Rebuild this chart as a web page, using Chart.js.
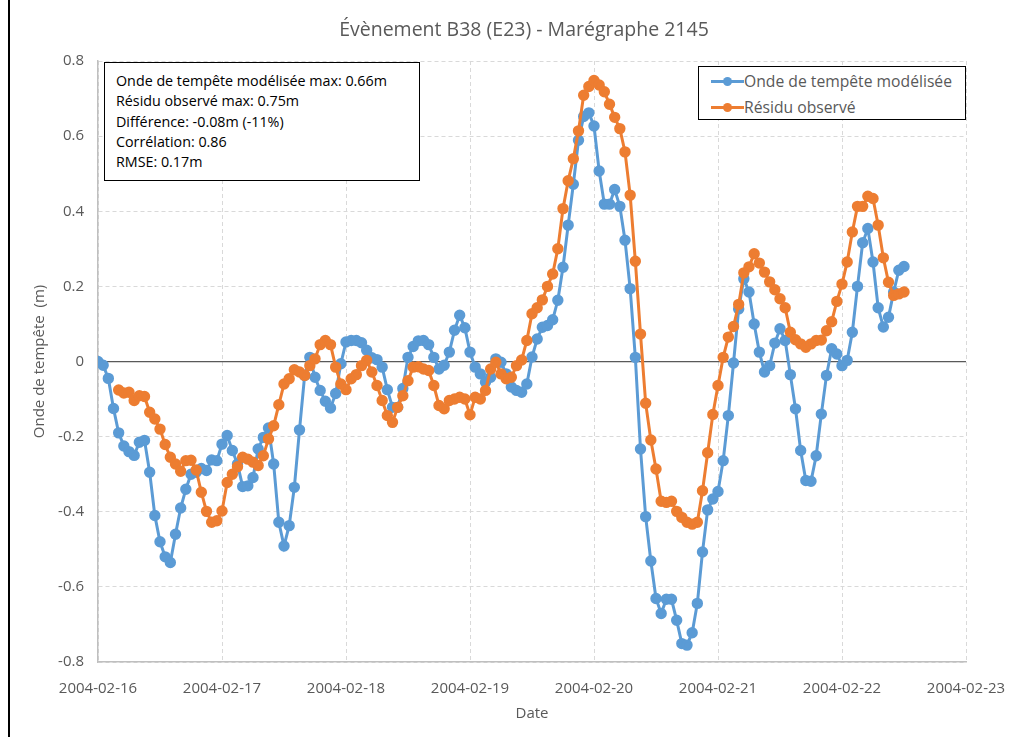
<!DOCTYPE html>
<html>
<head>
<meta charset="utf-8">
<script src="https://cdn.jsdelivr.net/npm/chart.js@4.4.1/dist/chart.umd.min.js"></script>
<style>
    body { margin: 0; background: #fff; }
    #wrap { position: relative; width: 1015px; height: 737px; overflow: hidden; font-family: "Open Sans", sans-serif; }
    #leftRule { position: absolute; left: 8px; top: 0; width: 2px; height: 737px; background: #000; }
    #title { position: absolute; left: 224px; width: 600px; top: 16px; text-align: center; font-size: 19.5px; line-height: 26px; color: #595959; }
    #stats { position: absolute; left: 104px; top: 62px; width: 316px; height: 119px; box-sizing: border-box; border: 1.5px solid #000; background: #fff; padding: 8px 0 0 11px; font-size: 14.3px; line-height: 20.3px; color: #000; }
    #legend { position: absolute; left: 698px; top: 66px; width: 268px; height: 54px; box-sizing: border-box; border: 1.5px solid #000; background: #fff; padding-top: 1px; font-size: 15.7px; color: #595959; }
    .row { height: 26px; line-height: 26px; display: flex; align-items: center; }
    .mark { position: relative; width: 33px; height: 26px; margin-left: 12px; }
    .mark .ln { position: absolute; left: 0; right: 0; top: 12px; height: 3px; }
    .mark .dot { position: absolute; left: 12px; top: 9px; width: 9px; height: 9px; border-radius: 50%; }
</style>
</head>
<body>
<div id="wrap">
    <canvas id="chart" width="1015" height="737"></canvas>
    <div id="leftRule"></div>
    <div id="title">Évènement B38 (E23) - Marégraphe 2145</div>
    <div id="stats">
        <div>Onde de tempête modélisée max: 0.66m</div>
        <div>Résidu observé max: 0.75m</div>
        <div>Différence: -0.08m (-11%)</div>
        <div>Corrélation: 0.86</div>
        <div>RMSE: 0.17m</div>
    </div>
    <div id="legend">
        <div class="row"><span class="mark"><span class="ln" style="background:#5B9BD5"></span><span class="dot" style="background:#5B9BD5"></span></span><span>Onde de tempête modélisée</span></div>
        <div class="row"><span class="mark"><span class="ln" style="background:#ED7D31"></span><span class="dot" style="background:#ED7D31"></span></span><span>Résidu observé</span></div>
    </div>
</div>
<script>
// axe des dates (une étiquette par jour, x en heures depuis 2004-02-16 00:00)
const dateLabels = ["2004-02-16", "2004-02-17", "2004-02-18", "2004-02-19", "2004-02-20", "2004-02-21", "2004-02-22", "2004-02-23"];
const hoursPerDay = 24;

// série modélisée, horaire à partir de l'heure 0
const modelStart = 0;
const modelValues = [
    0.0, -0.01, -0.045, -0.125, -0.19, -0.225, -0.24, -0.25, -0.215, -0.21,
    -0.295, -0.41, -0.48, -0.52, -0.535, -0.46, -0.39, -0.34, -0.30, -0.295,
    -0.285, -0.29, -0.262, -0.264, -0.22, -0.197, -0.237, -0.273, -0.333, -0.331,
    -0.309, -0.233, -0.202, -0.177, -0.273, -0.428, -0.491, -0.437, -0.335, -0.182,
    -0.037, 0.011, -0.042, -0.077, -0.106, -0.124, -0.085, -0.006, 0.052, 0.056,
    0.056, 0.05, 0.03, 0.01, 0.005, -0.015, -0.075, -0.122, -0.122, -0.072,
    0.011, 0.04, 0.055, 0.056, 0.045, 0.011, -0.02, -0.01, 0.025, 0.083,
    0.123, 0.09, 0.025, -0.015, -0.033, -0.055, -0.042, 0.007, -0.002, -0.033,
    -0.068, -0.077, -0.082, -0.06, 0.012, 0.06, 0.091, 0.096, 0.111, 0.163,
    0.251, 0.363, 0.472, 0.589, 0.652, 0.662, 0.627, 0.507, 0.419, 0.419,
    0.458, 0.413, 0.323, 0.194, 0.011, -0.233, -0.413, -0.531, -0.631, -0.671,
    -0.633, -0.633, -0.689, -0.751, -0.755, -0.722, -0.644, -0.507, -0.395, -0.366,
    -0.346, -0.264, -0.144, -0.004, 0.14, 0.22, 0.185, 0.1, 0.025, -0.028,
    -0.011, 0.049, 0.087, 0.056, -0.035, -0.126, -0.237, -0.317, -0.319, -0.251,
    -0.14, -0.037, 0.034, 0.02, -0.011, 0.003, 0.078, 0.2, 0.316, 0.354,
    0.265, 0.143, 0.092, 0.118, 0.185, 0.243, 0.253
];

// résidu observé, horaire à partir de l'heure 4
const observedStart = 4;
const observedValues = [
    -0.076, -0.084, -0.082, -0.104, -0.091, -0.093, -0.135, -0.153, -0.18, -0.221,
    -0.255, -0.273, -0.292, -0.264, -0.263, -0.289, -0.348, -0.399, -0.428, -0.424,
    -0.398, -0.322, -0.3, -0.28, -0.255, -0.26, -0.268, -0.277, -0.251, -0.206,
    -0.171, -0.115, -0.06, -0.046, -0.022, -0.028, -0.037, -0.011, 0.007, 0.045,
    0.056, 0.045, -0.015, -0.06, -0.075, -0.046, -0.035, -0.011, 0.003, -0.028,
    -0.064, -0.104, -0.144, -0.162, -0.122, -0.091, -0.051, -0.015, -0.014, -0.02,
    -0.024, -0.064, -0.117, -0.126, -0.104, -0.1, -0.095, -0.1, -0.142, -0.095,
    -0.1, -0.077, -0.02, -0.002, -0.033, -0.046, -0.042, -0.011, 0.004, 0.056,
    0.127, 0.143, 0.164, 0.2, 0.233, 0.3, 0.407, 0.481, 0.54, 0.614,
    0.709, 0.732, 0.748, 0.736, 0.718, 0.685, 0.65, 0.62, 0.558, 0.443,
    0.267, 0.073, -0.111, -0.209, -0.286, -0.372, -0.375, -0.372, -0.399, -0.415,
    -0.428, -0.433, -0.428, -0.344, -0.243, -0.141, -0.064, 0.011, 0.065, 0.093,
    0.152, 0.236, 0.252, 0.287, 0.262, 0.238, 0.212, 0.191, 0.167, 0.143,
    0.078, 0.058, 0.047, 0.038, 0.047, 0.056, 0.057, 0.082, 0.106, 0.16,
    0.206, 0.265, 0.345, 0.413, 0.413, 0.44, 0.434, 0.363, 0.276, 0.211,
    0.176, 0.18, 0.185
];

const yMin = -0.8, yMax = 0.8, yStep = 0.2;

const toPoints = (start, values) => values.map((v, i) => ({ x: start + i, y: v }));

const grey = "#595959";
const tickFont = { family: "Open Sans", size: 15 };
const isZero = c => c.tick && Math.abs(c.tick.value) < 1e-9;

new Chart(document.getElementById("chart"), {
    type: "line",
    data: {
        datasets: [{
            label: "Onde de tempête modélisée",
            data: toPoints(modelStart, modelValues),
            borderColor: "#5B9BD5",
            backgroundColor: "#5B9BD5",
            pointBackgroundColor: "#5B9BD5",
            pointBorderColor: "#5B9BD5",
            borderWidth: 3,
            pointRadius: 4.2,
            tension: 0,
            order: 2
        }, {
            label: "Résidu observé",
            data: toPoints(observedStart, observedValues),
            borderColor: "#ED7D31",
            backgroundColor: "#ED7D31",
            pointBackgroundColor: "#ED7D31",
            pointBorderColor: "#ED7D31",
            borderWidth: 3,
            pointRadius: 4.2,
            tension: 0,
            order: 1
        }]
    },
    options: {
        responsive: false,
        animation: false,
        devicePixelRatio: 1,
        layout: { padding: { left: 8, right: 49, top: 61, bottom: 0 } },
        plugins: {
            legend: { display: false },
            title: { display: false },
            tooltip: { enabled: false }
        },
        scales: {
            x: {
                type: "linear",
                min: 0,
                max: (dateLabels.length - 1) * hoursPerDay,
                afterFit: s => { s.height = 75; s.paddingLeft = 0; s.paddingRight = 0; },
                ticks: {
                    stepSize: hoursPerDay,
                    color: grey,
                    font: tickFont,
                    padding: 18,
                    maxRotation: 0,
                    callback: v => dateLabels[Math.round(v / hoursPerDay)]
                },
                grid: { color: "#d9d9d9", lineWidth: 1, drawTicks: false },
                border: { display: true, color: "#bfbfbf", width: 1.5, dash: [4, 3] },
                title: { display: true, text: "Date", color: grey, font: tickFont, padding: { top: 14, bottom: 14 } }
            },
            y: {
                min: yMin,
                max: yMax,
                afterFit: s => { s.width = 90; },
                ticks: {
                    stepSize: yStep,
                    color: grey,
                    font: tickFont,
                    padding: 14,
                    callback: v => String(Number(v.toFixed(1)))
                },
                grid: {
                    color: c => isZero(c) ? "#595959" : "#d9d9d9",
                    lineWidth: c => isZero(c) ? 1.2 : 1,
                    drawTicks: false
                },
                border: {
                    display: true, color: "#bfbfbf", width: 1.5,
                    dash: c => isZero(c) ? [] : [4, 3]
                },
                title: { display: true, text: "Onde de tempête  (m)", color: grey, font: tickFont, padding: { top: 23, bottom: 23 } }
            }
        }
    }
});
</script>
</body>
</html>
